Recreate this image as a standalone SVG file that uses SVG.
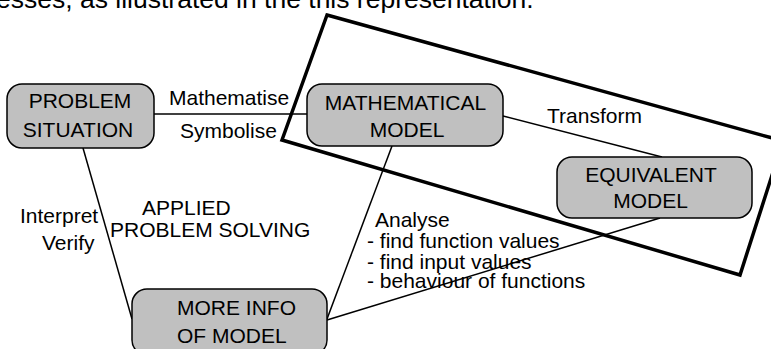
<svg xmlns="http://www.w3.org/2000/svg" width="771" height="349" viewBox="0 0 771 349">
<style>
text{font-family:"Liberation Sans",Arial,sans-serif;font-size:21px;fill:#000}
.box{fill:#c0c0c0;stroke:#000;stroke-width:1.5}
.c{text-anchor:middle}
.ln{stroke:#000;stroke-width:1.5;fill:none}
</style>
<rect width="771" height="349" fill="#fff"/>
<text x="-4" y="7.5" style="font-size:26.5px">esses, as illustrated in the this representation.</text>
<polygon points="327,15 783,141 740,275 282,140" fill="none" stroke="#000" stroke-width="3.5" stroke-linejoin="miter"/>
<g id="connectors">
<line class="ln" x1="154" y1="114" x2="307" y2="114"/>
<line class="ln" x1="503" y1="116" x2="662" y2="157"/>
<line class="ln" x1="83" y1="148" x2="132" y2="319"/>
<line class="ln" x1="392" y1="146" x2="327" y2="319"/>
<line class="ln" x1="660" y1="218" x2="327" y2="320"/>
</g>
<g id="labels">
<text x="169" y="105">Mathematise</text>
<text x="180" y="138">Symbolise</text>
<text x="547" y="123">Transform</text>
<text x="20" y="223">Interpret</text>
<text x="42" y="250">Verify</text>
<text x="142" y="215">APPLIED</text>
<text x="110" y="237">PROBLEM SOLVING</text>
<text x="375" y="227">Analyse</text>
<text x="367" y="248">- find function values</text>
<text x="367" y="269">- find input values</text>
<text x="367" y="288">- behaviour of functions</text>
</g>
<g id="problem-situation">
<rect class="box" x="7" y="84" width="147" height="64" rx="15"/>
<text class="c" x="80" y="108">PROBLEM</text>
<text class="c" x="78" y="137">SITUATION</text>
</g>
<g id="mathematical-model">
<rect class="box" x="307" y="84" width="196" height="62" rx="15"/>
<text class="c" x="405.5" y="110">MATHEMATICAL</text>
<text class="c" x="407" y="137">MODEL</text>
</g>
<g id="equivalent-model">
<rect class="box" x="557" y="157" width="195" height="61" rx="15"/>
<text class="c" x="651" y="182">EQUIVALENT</text>
<text class="c" x="650.5" y="208">MODEL</text>
</g>
<g id="more-info">
<rect class="box" x="132" y="289" width="195" height="66" rx="15"/>
<text x="177" y="315">MORE INFO</text>
<text x="177" y="343">OF MODEL</text>
</g>
</svg>
